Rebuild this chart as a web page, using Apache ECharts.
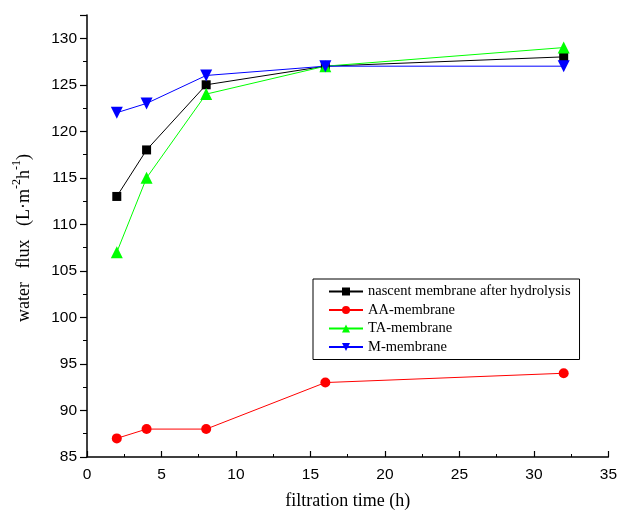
<!DOCTYPE html>
<html>
<head>
<meta charset="utf-8">
<script src="https://cdn.jsdelivr.net/npm/echarts@6/dist/echarts.min.js"></script>
<style>html,body{margin:0;padding:0;background:#fff}#c{width:620px;height:515px}</style>
</head>
<body>
<div id="c"></div>
<script>
const times = [2, 4, 8, 16, 32];
const nascent = [113, 118, 125, 127, 128];
const aaMembrane = [87, 88, 88, 93, 94];
const taMembrane = [107, 115, 124, 127, 129];
const mMembrane = [122, 123, 126, 127, 127];
const seriesNames = ['nascent membrane after hydrolysis', 'AA-membrane', 'TA-membrane', 'M-membrane'];

const pair = arr => times.map((t, i) => [t, arr[i]]);
const chart = echarts.init(document.getElementById('c'));
const serif = 'Liberation Serif, Times New Roman, serif';
const tickFont = {fontFamily: 'Liberation Sans, Arial, sans-serif', fontSize: 15.5, color: '#000'};
function mk(name, data, color, symbol, size, rot) {
  return {
    name, type: 'line', data: pair(data), symbol, symbolSize: size, symbolRotate: rot || 0,
    lineStyle: {color, width: 1}, itemStyle: {color}, color, animation: false
  };
}
chart.setOption({
  animation: false,
  grid: {left: 87, right: 9, top: 15, bottom: 53, containLabel: false},
  xAxis: {
    type: 'value', min: 0, max: 35, interval: 5,
    axisLine: {lineStyle: {color: '#000', width: 1.5}},
    axisTick: {inside: true, length: 6, lineStyle: {color: '#000', width: 1.2}},
    minorTick: {show: true, splitNumber: 2, length: 3, lineStyle: {color: '#000'}},
    splitLine: {show: false},
    axisLabel: Object.assign({margin: 10}, tickFont),
    name: 'filtration time (h)', nameLocation: 'middle', nameGap: 35,
    nameTextStyle: {fontFamily: serif, fontSize: 18, color: '#000'}
  },
  yAxis: {
    type: 'value', min: 85, max: 132.5, interval: 5,
    axisLine: {show: true, lineStyle: {color: '#000', width: 1.5}},
    axisTick: {show: true, inside: false, length: 7, lineStyle: {color: '#000', width: 1.2}},
    minorTick: {show: true, splitNumber: 2, length: 4, lineStyle: {color: '#000'}},
    splitLine: {show: false},
    axisLabel: Object.assign({margin: 10, showMaxLabel: false}, tickFont)
  },
  legend: {
    orient: 'vertical', left: 313, top: 279,
    padding: [5, 9, 5, 15], itemGap: 3.5, itemWidth: 34, itemHeight: 10,
    borderColor: '#000', borderWidth: 1, borderRadius: 0,
    textStyle: {fontFamily: serif, fontSize: 14.5, color: '#000'},
    data: seriesNames
  },
  graphic: [{
    type: 'text', x: 22, y: 238, rotation: Math.PI / 2,
    style: {
      text: '{a|water   flux   (L·m}{s|-2}{a|h}{s|-1}{a|)}',
      align: 'center', verticalAlign: 'middle',
      rich: {
        a: {fontFamily: serif, fontSize: 18, fill: '#000', lineHeight: 22, verticalAlign: 'bottom'},
        s: {fontFamily: serif, fontSize: 12, fill: '#000', lineHeight: 22, verticalAlign: 'top', padding: [0, 0, 9, 0]}
      }
    }
  }],
  series: [
    mk(seriesNames[0], nascent, '#000000', 'rect', 9),
    mk(seriesNames[1], aaMembrane, '#ff0000', 'circle', 10),
    mk(seriesNames[2], taMembrane, '#00ff00', 'triangle', 12),
    mk(seriesNames[3], mMembrane, '#0000ff', 'triangle', 12, 180)
  ]
});
</script>
</body>
</html>
